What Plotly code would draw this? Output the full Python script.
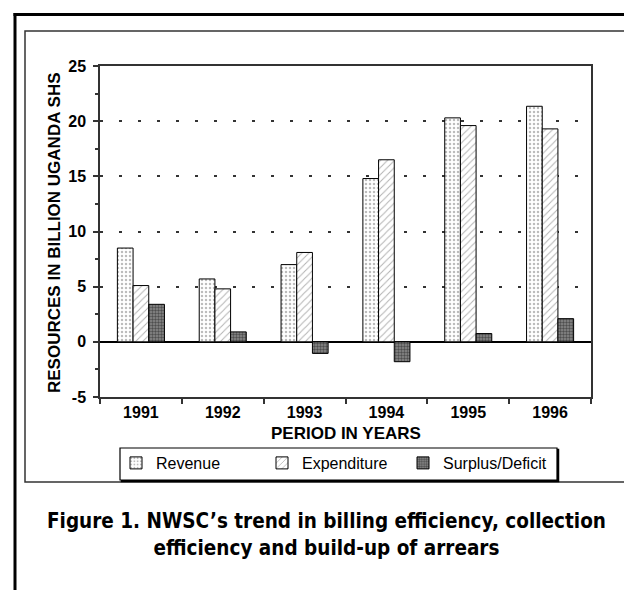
import plotly.graph_objects as go

years = ["1991", "1992", "1993", "1994", "1995", "1996"]
revenue = [8.5, 5.7, 7.0, 14.8, 20.3, 21.35]
expenditure = [5.1, 4.8, 8.1, 16.5, 19.6, 19.3]
surplus = [3.4, 0.9, -1.05, -1.8, 0.75, 2.1]

y_ticks = [-5, 0, 5, 10, 15, 20, 25]
series_names = ["Revenue", "Expenditure", "Surplus/Deficit"]

# page has an 8px body margin; figure is sized to fill the rest of the window
OFF = 8
W, H = 632 - OFF, 590 - OFF
# plot area in window pixels
PL, PR, PT, PB = 100, 591, 66, 397


def fx(px):
    """window x pixel -> paper fraction"""
    return (px - PL) / (PR - PL)


def fy(py):
    """window y pixel -> paper fraction"""
    return (PB - py) / (PB - PT)


FONT = "Liberation Sans, Arial, sans-serif"
NARROW = "Liberation Sans Narrow, Arial Narrow, DejaVu Sans Condensed, sans-serif"

fig = go.Figure()
fig.add_trace(go.Bar(
    x=years, y=revenue, name=series_names[0], legendwidth=101,
    marker=dict(color="white", line=dict(color="black", width=1),
                pattern=dict(shape=".", fgcolor="#777", bgcolor="white", size=4, solidity=0.3)),
))
fig.add_trace(go.Bar(
    x=years, y=expenditure, name=series_names[1], legendwidth=96,
    marker=dict(color="white", line=dict(color="black", width=1),
                pattern=dict(shape="/", fgcolor="#666", bgcolor="white", size=5, solidity=0.2)),
))
fig.add_trace(go.Bar(
    x=years, y=surplus, name=series_names[2],
    marker=dict(color="#777", line=dict(color="black", width=1),
                pattern=dict(shape=".", fgcolor="#111", bgcolor="#8a8a8a", size=3, solidity=0.5)),
))

shapes = [
    # outer thick frame
    dict(type="line", xref="paper", yref="paper", x0=fx(15), x1=fx(15), y0=fy(13), y1=fy(620),
         line=dict(color="black", width=3)),
    dict(type="line", xref="paper", yref="paper", x0=fx(13.5), x1=fx(660), y0=fy(14.5), y1=fy(14.5),
         line=dict(color="black", width=3)),
    # inner frame
    dict(type="rect", xref="paper", yref="paper", x0=fx(25), x1=fx(627.5), y0=fy(31), y1=fy(482),
         line=dict(color="#333", width=1.5), layer="below"),
    # legend shadow and box
    dict(type="rect", xref="paper", yref="paper", x0=fx(121.5), x1=fx(558.5), y0=fy(449.5), y1=fy(481.5),
         line=dict(color="black", width=1.5), fillcolor="black", layer="above"),
    dict(type="rect", xref="paper", yref="paper", x0=fx(120), x1=fx(557), y0=fy(448), y1=fy(480),
         line=dict(color="black", width=1.2), fillcolor="white", layer="above"),
]

annotations = [
    dict(text="PERIOD IN YEARS", xref="paper", yref="paper", x=fx(345.5), y=fy(433),
         xanchor="center", yanchor="middle", showarrow=False,
         font=dict(family=FONT, size=17, color="black", weight="bold")),
    dict(text="RESOURCES IN BILLION UGANDA SHS", xref="paper", yref="paper", x=fx(54), y=fy(233),
         xanchor="center", yanchor="middle", showarrow=False, textangle=-90,
         font=dict(family=FONT, size=17, color="black", weight="bold")),
    dict(text="Figure 1. NWSC\u2019s trend in billing efficiency, collection<br>efficiency and build-up of arrears",
         xref="paper", yref="paper", x=fx(326), y=fy(534.5), xanchor="center", yanchor="middle",
         showarrow=False, align="center",
         font=dict(family=NARROW, size=20.5, color="black", weight="bold")),
]

fig.update_layout(
    width=W, height=H,
    margin=dict(l=PL - OFF, r=W - (PR - OFF), t=PT - OFF, b=H - (PB - OFF), pad=0),
    paper_bgcolor="white", plot_bgcolor="white",
    barmode="group", bargap=0.425, bargroupgap=0,
    showlegend=True,
    legend=dict(orientation="h", x=fx(116), y=fy(446), xanchor="left", yanchor="top",
                bgcolor="rgba(0,0,0,0)", borderwidth=0,
                font=dict(family=FONT, size=16, color="black")),
    shapes=shapes,
    annotations=annotations,
)

fig.update_xaxes(
    type="category", showgrid=False, zeroline=False,
    showline=True, linecolor="#333", linewidth=1.5, mirror=True,
    ticks="outside", tickson="boundaries", ticklen=5, tickcolor="#333", tickwidth=1.5,
    tickfont=dict(family=FONT, size=16, color="black", weight="bold"),
)
fig.update_yaxes(
    range=[-5, 25], tickvals=y_ticks, ticktext=[str(v) for v in y_ticks],
    showgrid=True, gridcolor="#333", gridwidth=1.5, griddash="3px,16px",
    zeroline=True, zerolinecolor="black", zerolinewidth=1.5,
    showline=True, linecolor="#333", linewidth=1.5, mirror=True,
    ticks="outside", ticklen=5, tickcolor="#333", tickwidth=1.5, ticklabelstandoff=4,
    minor=dict(dtick=2.5, tick0=0, ticks="outside", ticklen=3, tickcolor="#333", tickwidth=1.5, showgrid=False),
    tickfont=dict(family=FONT, size=16, color="black", weight="bold"),
)

fig.write_html("out.html")
